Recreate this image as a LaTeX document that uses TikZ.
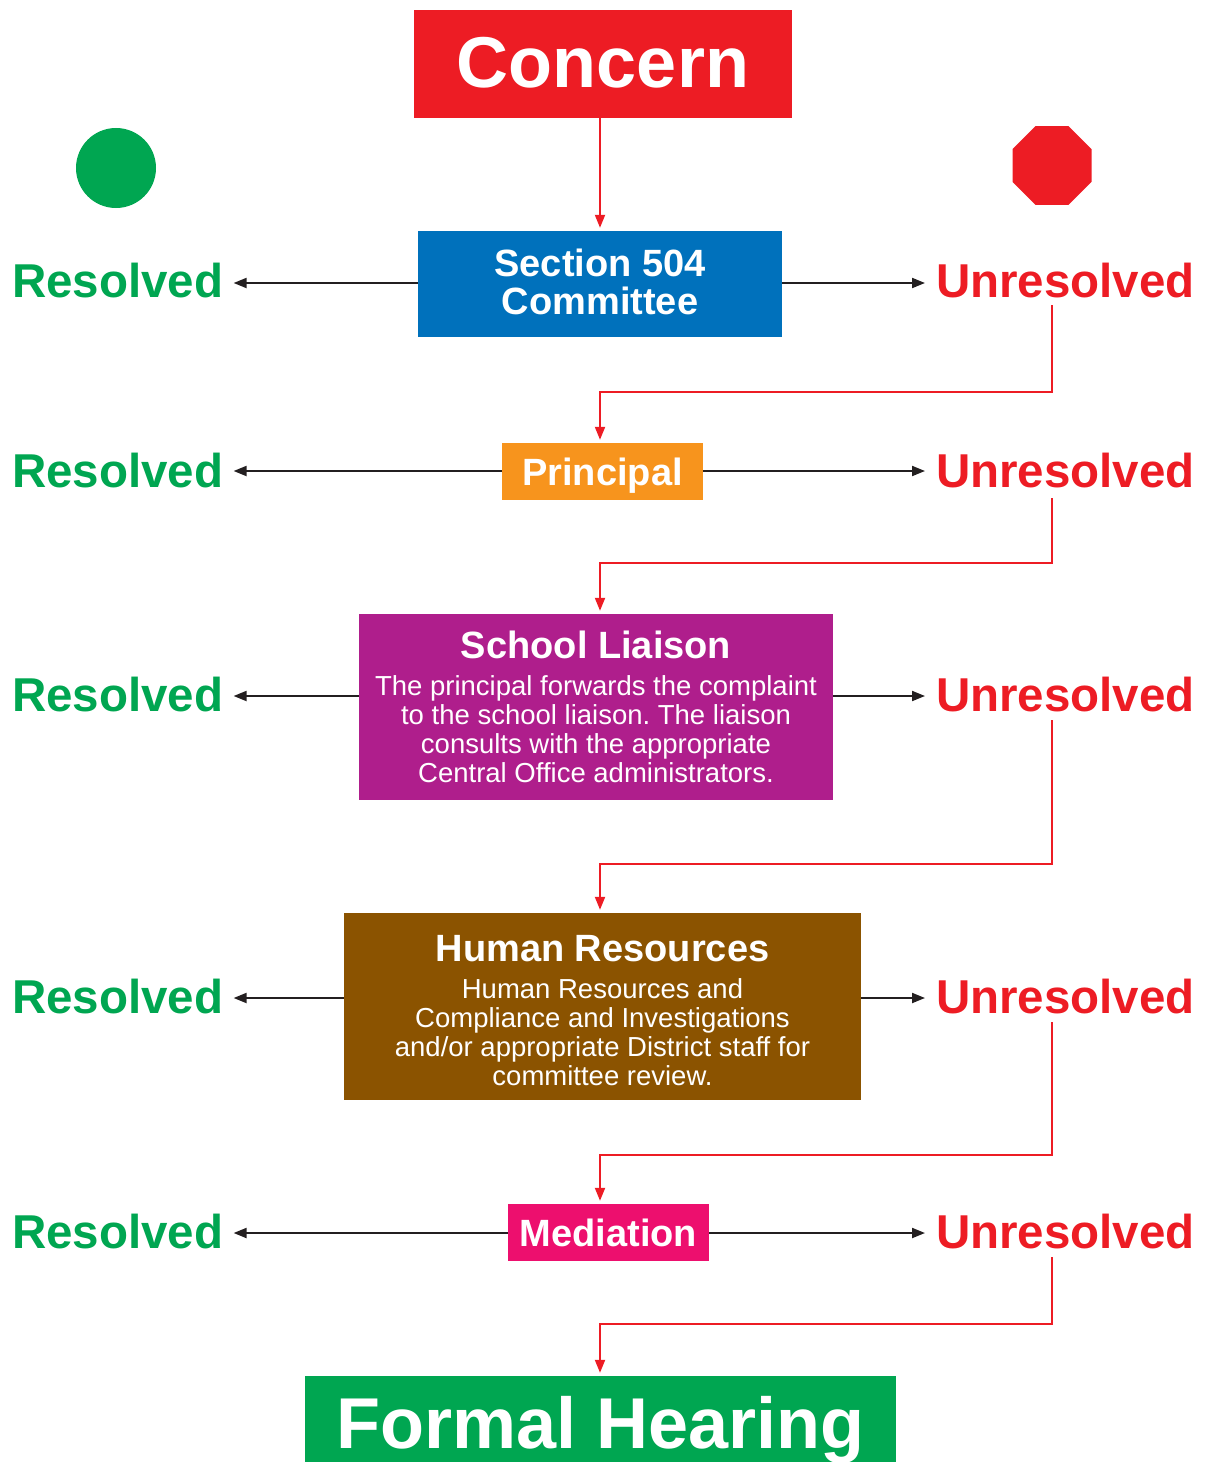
\documentclass[tikz,border=0pt]{standalone}
\usepackage{fontspec}
\setmainfont{Liberation Sans}
\usetikzlibrary{arrows.meta,shapes.geometric}
\definecolor{cred}{HTML}{ED1C24}
\definecolor{cgreen}{HTML}{00A651}
\definecolor{cblue}{HTML}{0071BC}
\definecolor{corange}{HTML}{F7941D}
\definecolor{cpurple}{HTML}{AF1E8C}
\definecolor{cbrown}{HTML}{8B5300}
\definecolor{cpink}{HTML}{ED0F6E}
\definecolor{cblack}{HTML}{231F20}
\newcommand\myfs[2]{\fontsize{#1bp}{#2bp}\selectfont}
\frenchspacing
\begin{document}
\begin{tikzpicture}[x=1bp,y=-1bp,
  box/.style={inner sep=0pt, text=white, align=center},
  res/.style={anchor=west, inner xsep=10bp, inner ysep=0pt, text=cgreen, font=\myfs{47.5}{48}\bfseries},
  unres/.style={anchor=east, inner xsep=10bp, inner ysep=0pt, text=cred, font=\myfs{47.5}{48}\bfseries},
  blk/.style={draw=cblack, line width=2bp, -{Triangle[length=13bp,width=10bp]}},
  redarr/.style={draw=cred, line width=2bp, -{Triangle[length=13bp,width=10bp]}, shorten >=3bp},
]
\useasboundingbox (0,0) rectangle (1205,1462);

% boxes
\node[box, fill=cred, minimum width=378bp, minimum height=108bp, text height=48bp, text depth=0pt, font=\myfs{72}{72}\bfseries] (concern) at (603,64) {Concern};
\node[box, fill=cblue, minimum width=364bp, minimum height=106bp, font=\myfs{38}{38}\bfseries] (sec) at (600,284) {Section 504\\Committee\rule[-4bp]{0pt}{4bp}};
\node[box, fill=corange, minimum width=201bp, minimum height=57bp, text depth=0pt, font=\myfs{38}{38}\bfseries] (prin) at (602.5,471.5) {Principal};
\node[box, fill=cpurple, minimum width=474bp, minimum height=186bp, font=\myfs{27.5}{29}] (school) at (596,707)
  {{\myfs{38}{38}\bfseries School Liaison}\\[8bp]The principal forwards the complaint\\to the school liaison. The liaison\\consults with the appropriate\\Central Office administrators.};
\node[box, fill=cbrown, minimum width=517bp, minimum height=187bp, font=\myfs{27.5}{29}] (hr) at (602.5,1006.5)
  {{\myfs{38}{38}\bfseries\rule{0pt}{34bp}Human Resources}\\[8bp]Human Resources and\\Compliance and Investigations\\and/or appropriate District staff for\\committee review.};
\node[box, fill=cpink, minimum width=201bp, minimum height=57bp, text depth=0pt, font=\myfs{38}{38}\bfseries] (med) at (608.5,1232.5) {Mediation};
\node[box, fill=cgreen, minimum width=591bp, minimum height=86bp, text height=58bp, text depth=0pt, font=\myfs{72}{72}\bfseries] (formal) at (600.5,1419) {Formal Hearing};

% symbols
\node[circle, fill=cgreen, inner sep=0pt, minimum size=80bp] (go) at (116,168) {};
\node[regular polygon, regular polygon sides=8, fill=cred, inner sep=0pt, outer sep=0pt, minimum size=85.5bp] (stop) at (1052,165.5) {};

% labels
\node[res] (res1) at (2,281) {Resolved};
\node[res] (res2) at (2,471) {Resolved};
\node[res] (res3) at (2,695) {Resolved};
\node[res] (res4) at (2,997) {Resolved};
\node[res] (res5) at (2,1232) {Resolved};
\node[unres] (un1) at (1205,281) {Unresolved};
\node[unres] (un2) at (1205,471) {Unresolved};
\node[unres] (un3) at (1205,695) {Unresolved};
\node[unres] (un4) at (1205,997) {Unresolved};
\node[unres] (un5) at (1205,1232) {Unresolved};

% row levels
\coordinate (y1) at (0,283);
\coordinate (y2) at (0,471);
\coordinate (y3) at (0,696);
\coordinate (y4) at (0,998);
\coordinate (y5) at (0,1233);
\coordinate (xr) at (925,0);

% black arrows
\draw[blk] (sec.west |- y1) -- (res1.east |- y1);
\draw[blk] (sec.east |- y1) -- (xr |- y1);
\draw[blk] (prin.west |- y2) -- (res2.east |- y2);
\draw[blk] (prin.east |- y2) -- (xr |- y2);
\draw[blk] (school.west |- y3) -- (res3.east |- y3);
\draw[blk] (school.east |- y3) -- (xr |- y3);
\draw[blk] (hr.west |- y4) -- (res4.east |- y4);
\draw[blk] (hr.east |- y4) -- (xr |- y4);
\draw[blk] (med.west |- y5) -- (res5.east |- y5);
\draw[blk] (med.east |- y5) -- (xr |- y5);

% red connectors
\draw[redarr] (sec.north |- concern.south) -- (sec.north);
\coordinate (u1) at (1052,305);  \coordinate (t1) at (600,392);
\coordinate (u2) at (1052,498);  \coordinate (t2) at (600,563);
\coordinate (u3) at (1052,720);  \coordinate (t3) at (600,864);
\coordinate (u4) at (1052,1022); \coordinate (t4) at (600,1155);
\coordinate (u5) at (1052,1257); \coordinate (t5) at (600,1324);
\draw[redarr] (u1) |- (t1) -- (t1 |- prin.north);
\draw[redarr] (u2) |- (t2) -- (t2 |- school.north);
\draw[redarr] (u3) |- (t3) -- (t3 |- hr.north);
\draw[redarr] (u4) |- (t4) -- (t4 |- med.north);
\draw[redarr] (u5) |- (t5) -- (t5 |- formal.north);
\end{tikzpicture}
\end{document}
